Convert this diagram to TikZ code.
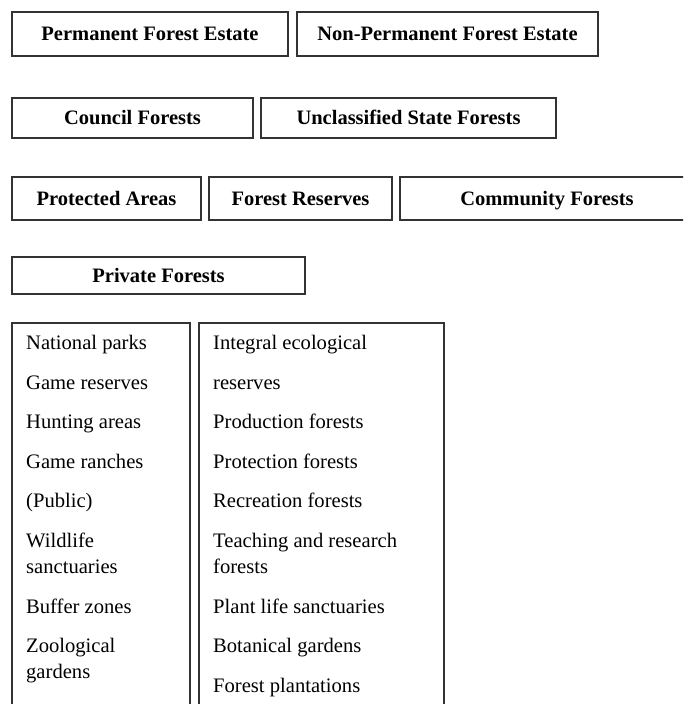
\documentclass[tikz,border=0pt]{standalone}
\usepackage{fontspec}
\setmainfont{Liberation Serif}
\begin{document}
\begin{tikzpicture}[x=1pt,y=-1pt,
  hbox/.style={draw=black!80,line width=1.1pt,inner sep=0pt,text height=16pt,text depth=3pt,font=\fontsize{20.5}{23}\selectfont\bfseries},
  lbox/.style={draw=black!80,line width=1.1pt,inner sep=0pt},
  item/.style={anchor=mid west,inner sep=0pt,font=\fontsize{20.6}{23}\selectfont}]
\useasboundingbox (0,0) rectangle (683,704);
\clip (0,0) rectangle (683,704);
\node[hbox,minimum width=276pt,minimum height=44pt] (pfe) at (150,34) {Permanent Forest Estate};
\node[hbox,minimum width=301pt,minimum height=44pt] (npfe) at (447.5,34) {Non-Permanent Forest Estate};
\node[hbox,minimum width=241pt,minimum height=40pt] (cf) at (132.5,118) {Council Forests};
\node[hbox,minimum width=295pt,minimum height=40pt] (usf) at (408.5,118) {Unclassified State Forests};
\node[hbox,minimum width=189pt,minimum height=43pt] (pa) at (106.5,198.5) {Protected Areas};
\node[hbox,minimum width=183pt,minimum height=43pt] (fr) at (300.5,198.5) {Forest Reserves};
\node[hbox,minimum width=294pt,minimum height=43pt] (comf) at (547,198.5) {Community Forests};
\node[hbox,minimum width=293pt,minimum height=37pt] (prf) at (158.5,275.5) {Private Forests};
\node[lbox,minimum width=178pt,minimum height=397pt] (lb) at (101,521.5) {};
\node[lbox,minimum width=245pt,minimum height=397pt] (rb) at (321.5,521.5) {};
% left list
\begin{scope}[yshift=-4pt]
\node[item] (l1) at (26,343) {National parks};
\node[item] (l2) at (26,383) {Game reserves};
\node[item] (l3) at (26,422) {Hunting areas};
\node[item] (l4) at (26,462) {Game ranches};
\node[item] (l5) at (26,501) {(Public)};
\node[item] (l6) at (26,541) {Wildlife};
\node[item] (l7) at (26,567) {sanctuaries};
\node[item] (l8) at (26,607) {Buffer zones};
\node[item] (l9) at (26,646) {Zoological};
\node[item] (l10) at (26,672) {gardens};
% right list
\node[item] (r1) at (213,343) {Integral ecological};
\node[item] (r2) at (213,383) {reserves};
\node[item] (r3) at (213,422) {Production forests};
\node[item] (r4) at (213,462) {Protection forests};
\node[item] (r5) at (213,501) {Recreation forests};
\node[item] (r6) at (213,541) {Teaching and research};
\node[item] (r7) at (213,567) {forests};
\node[item] (r8) at (213,607) {Plant life sanctuaries};
\node[item] (r9) at (213,646) {Botanical gardens};
\node[item] (r10) at (213,686) {Forest plantations};
\end{scope}
\end{tikzpicture}
\end{document}
